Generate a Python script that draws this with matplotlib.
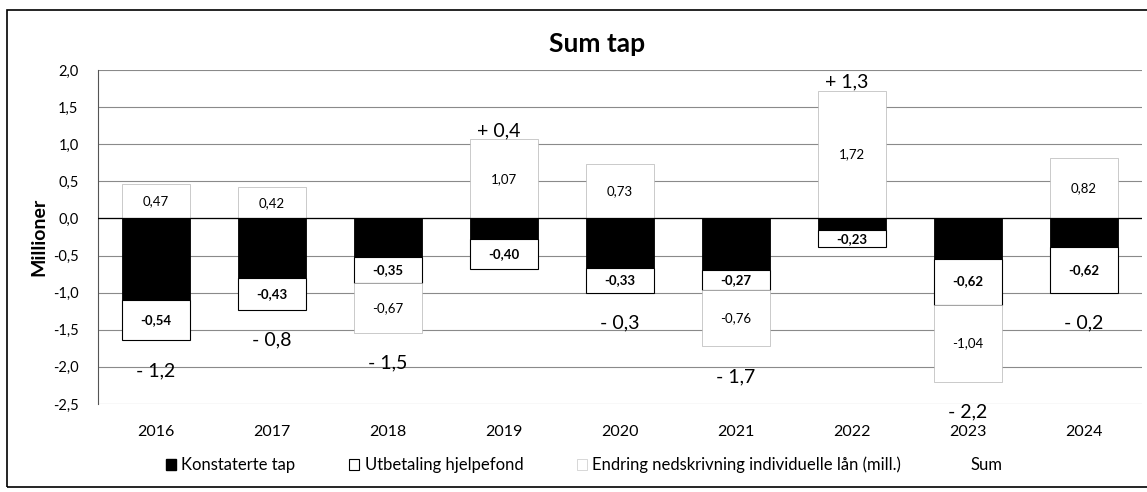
import matplotlib
matplotlib.use("Agg")
import matplotlib.pyplot as plt
from matplotlib.patches import Rectangle, Patch
from matplotlib.lines import Line2D
import numpy as np

plt.rcParams['font.family'] = ['Lato', 'DejaVu Sans']

years = ['2016', '2017', '2018', '2019', '2020', '2021', '2022', '2023', '2024']
konstaterte_tap = [-1.10, -0.80, -0.52, -0.28, -0.67, -0.69, -0.16, -0.54, -0.38]
utbetaling_hjelpefond = [-0.54, -0.43, -0.35, -0.40, -0.33, -0.27, -0.23, -0.62, -0.62]
endring_nedskrivning = [0.47, 0.42, -0.67, 1.07, 0.73, -0.76, 1.72, -1.04, 0.82]
y_ticks = [2.0, 1.5, 1.0, 0.5, 0.0, -0.5, -1.0, -1.5, -2.0, -2.5]

k = np.array(konstaterte_tap)
h = np.array(utbetaling_hjelpefond)
e = np.array(endring_nedskrivning)
x = np.arange(len(years))
w = 0.58

fig = plt.figure(figsize=(11.47, 4.92), dpi=100)
ax = fig.add_axes([98/1147, 1-404/492, (1142-98)/1147, (404-70)/492])

# gridlines
for t in y_ticks:
    ax.axhline(t, color='#8a8a8a', lw=0.8, zorder=0)

# negative stack
b1 = ax.bar(x, k, w, color='black', edgecolor='black', lw=0.6, zorder=2)
b2 = ax.bar(x, h, w, bottom=k, color='white', edgecolor='black', lw=0.8, zorder=2)
neg_bottom = k + h
e_bottom = np.where(e < 0, neg_bottom, 0.0)
b3 = ax.bar(x, e, w, bottom=e_bottom, color='white', edgecolor='#b5b5b5', lw=0.5, zorder=2)

ax.axhline(0, color='black', lw=0.9, zorder=3)

def fmt(v):
    return f"{v:.2f}".replace('.', ',')

for i in range(len(x)):
    ax.text(x[i], k[i] + h[i] / 2, fmt(h[i]), ha='center', va='center',
            fontsize=9.5, fontweight='bold', zorder=4)
    ax.text(x[i], e_bottom[i] + e[i] / 2, fmt(e[i]), ha='center', va='center',
            fontsize=9.5, zorder=4)

sums = k + h + e
for i in range(len(x)):
    s = sums[i]
    lbl = f"{'+' if s > 0 else '-'} {abs(s):.1f}".replace('.', ',')
    if s >= 0:
        top = max(e[i], 0)
        ax.text(x[i] - 0.05, top, lbl, ha='center', va='bottom', fontsize=14, zorder=4)
    else:
        bot = neg_bottom[i] + min(e[i], 0)
        ax.text(x[i], bot - 0.41, lbl, ha='center', va='center', fontsize=14, zorder=4)

ax.set_xlim(-0.5, len(years) - 0.5)
ax.set_ylim(-2.5, 2.0)
ax.set_yticks(y_ticks)
ax.set_yticklabels([f"{t:.1f}".replace('.', ',') for t in y_ticks], fontsize=10.5)
ax.set_xticks(x)
ax.set_xticklabels(years, fontsize=11.5)
ax.tick_params(axis='x', length=0, pad=15)
ax.tick_params(axis='y', length=0, pad=14)
for s in ['top', 'right', 'bottom']:
    ax.spines[s].set_visible(False)
ax.spines['left'].set_color('#555555')
ax.spines['left'].set_linewidth(0.8)
ax.set_ylabel('Millioner', fontsize=14, fontweight='bold', labelpad=4)

fig.text(597/1147, 1 - 44/492, 'Sum tap', ha='center', va='center', fontsize=19, fontweight='bold')

handles = [Patch(facecolor='black', edgecolor='black'),
           Patch(facecolor='white', edgecolor='black', lw=0.8),
           Patch(facecolor='white', edgecolor='#c8c8c8', lw=0.5),
           Line2D([], [], color='none')]
labels = ['Konstaterte tap', 'Utbetaling hjelpefond',
          'Endring nedskrivning individuelle lån (mill.)', 'Sum']
fig.legend(handles, labels, loc='center', bbox_to_anchor=(584/1147, 1 - 465/492), ncol=4,
           frameon=False, fontsize=12, handlelength=0.6, handleheight=0.6,
           handletextpad=0.35, columnspacing=3.2)

# chart area border
fig.patches.append(Rectangle((7/1147, 1 - 487/492), 1.2, (487 - 10)/492,
                             transform=fig.transFigure, fill=False, edgecolor='black', lw=1.2))

fig.savefig('out.png', dpi=100)
